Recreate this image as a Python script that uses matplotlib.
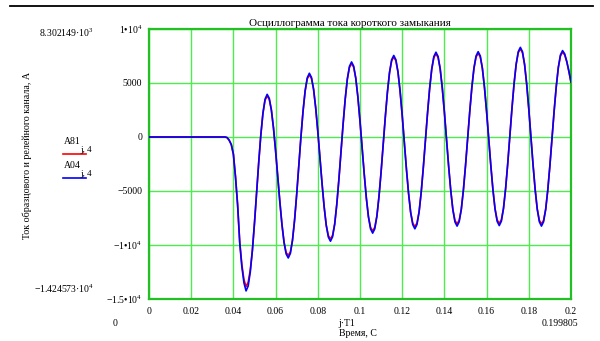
import matplotlib
matplotlib.use("Agg")
import matplotlib.pyplot as plt
from matplotlib.lines import Line2D

plt.rcParams["font.family"] = ["Liberation Serif", "DejaVu Serif"]
plt.rcParams["mathtext.fontset"] = "custom"
plt.rcParams["mathtext.rm"] = "Liberation Serif"
plt.rcParams["mathtext.it"] = "Liberation Serif"
plt.rcParams["mathtext.default"] = "rm"

#Sample step and sample numbers (time = j*T1)
T1 = 0.001
j = list(range(201))

#Blue trace: A04 (relay channel)
A04 = [0, 0, 0, 0, 0, 0, 0, 0, 0, 0,
       0, 0, 0, 0, 0, 0, 0, 0, 0, 0,
       0, 0, 0, 0, 0, 0, 0, 0, 0, 0,
       0, 0, 0, 0, 0, 0, 0, -50, -300, -700,
       -1600, -3700, -6300, -9800, -12000, -13500, -14250, -13800, -12500, -10500,
       -7950, -5150, -2350, 200, 2200, 3500, 3950, 3580, 2500, 830,
       -1280, -3630, -5970, -8080, -9750, -10830, -11200, -10780, -9570, -7680,
       -5290, -2650, 0, 2380, 4270, 5480, 5900, 5520, 4420, 2700,
       530, -1880, -4280, -6450, -8170, -9270, -9650, -9240, -8070, -6230,
       -3920, -1350, 1220, 3530, 5370, 6540, 6950, 6560, 5440, 3690,
       1470, -980, -3420, -5640, -7390, -8510, -8900, -8500, -7330, -5510,
       -3220, -680, 1870, 4160, 5980, 7150, 7550, 7160, 6020, 4240,
       2010, -480, -2960, -5190, -6970, -8110, -8500, -8100, -6940, -5130,
       -2850, -330, 2200, 4480, 6290, 7450, 7850, 7460, 6310, 4530,
       2290, -200, -2690, -4930, -6710, -7860, -8250, -7850, -6710, -4920,
       -2670, -180, 2320, 4570, 6360, 7500, 7900, 7510, 6360, 4580,
       2340, -150, -2640, -4880, -6660, -7810, -8200, -7800, -6620, -4800,
       -2500, 50, 2600, 4900, 6720, 7900, 8300, 7900, 6720, 4890,
       2580, 30, -2530, -4840, -6670, -7850, -8250, -7850, -6700, -4900,
       -2640, -130, 2390, 4650, 6450, 7600, 8000, 7700, 7000, 6100,
       5100]

#Red trace: A81 (reference channel)
A81 = [0, 0, 0, 0, 0, 0, 0, 0, 0, 0,
       0, 0, 0, 0, 0, 0, 0, 0, 0, 0,
       0, 0, 0, 0, 0, 0, 0, 0, 0, 0,
       0, 0, 0, 0, 0, 0, 0, -50, -300, -700,
       -1600, -3700, -6300, -9700, -11800, -13200, -13850, -13450, -12300, -10500,
       -7950, -5150, -2350, 200, 2200, 3400, 3800, 3470, 2500, 830,
       -1280, -3630, -5970, -8080, -9750, -10700, -10950, -10650, -9570, -7680,
       -5290, -2650, 0, 2380, 4270, 5380, 5750, 5420, 4420, 2700,
       530, -1880, -4280, -6450, -8170, -9120, -9450, -9100, -8070, -6230,
       -3920, -1350, 1220, 3530, 5370, 6440, 6800, 6460, 5440, 3690,
       1470, -980, -3420, -5640, -7390, -8370, -8700, -8360, -7330, -5510,
       -3220, -680, 1870, 4160, 5980, 7050, 7400, 7060, 6020, 4240,
       2010, -480, -2960, -5190, -6970, -7970, -8300, -7960, -6940, -5130,
       -2850, -330, 2200, 4480, 6290, 7350, 7700, 7360, 6310, 4530,
       2290, -200, -2690, -4930, -6710, -7720, -8050, -7710, -6710, -4920,
       -2670, -180, 2320, 4570, 6360, 7400, 7750, 7410, 6360, 4580,
       2340, -150, -2640, -4880, -6660, -7670, -8000, -7660, -6620, -4800,
       -2500, 50, 2600, 4900, 6720, 7800, 8150, 7800, 6720, 4890,
       2580, 30, -2530, -4840, -6670, -7710, -8050, -7710, -6700, -4900,
       -2640, -130, 2390, 4650, 6450, 7500, 7850, 7600, 6950, 6050,
       5050]

t = [k * T1 for k in j]

#Axis ticks and labels
x_ticks = [0, 0.02, 0.04, 0.06, 0.08, 0.1, 0.12, 0.14, 0.16, 0.18, 0.2]
x_labels = ["0", "0.02", "0.04", "0.06", "0.08", "0.1", "0.12", "0.14", "0.16", "0.18", "0.2"]
y_ticks = [-15000, -10000, -5000, 0, 5000, 10000]
y_labels = ["\u22121.5\u202210$^{4}$", "\u22121\u202210$^{4}$", "\u22125000", "0", "5000", "1\u202210$^{4}$"]

W, H = 600, 341
fig = plt.figure(figsize=(6, 3.41), dpi=100)
ax = fig.add_axes([149 / W, 1 - 299 / H, 422 / W, 270 / H])


def put(x, y, s, **kw):
    #place text using pixel coordinates of the picture
    fig.text(x / W, 1 - y / H, s, **kw)


def hline(x0, x1, y, **kw):
    fig.add_artist(Line2D([x0 / W, x1 / W], [1 - y / H, 1 - y / H], transform=fig.transFigure, **kw))


ax.plot(t, A81, color="#ff0000", lw=1.2, zorder=3)
ax.plot(t, A04, color="#0000ff", lw=1.2, zorder=4)

ax.set_xlim(0, 0.2)
ax.set_ylim(-15000, 10000)
ax.set_xticks(x_ticks)
ax.set_xticklabels(x_labels, fontsize=7)
ax.set_yticks(y_ticks)
ax.set_yticklabels(y_labels, fontsize=7)
ax.tick_params(length=0, pad=5)
ax.tick_params(axis="x", pad=6)
ax.grid(True, color="#4ded4d", lw=1)
for s in ax.spines.values():
    s.set_color("#22c022")
    s.set_linewidth(1.6)

#Title and outer labels
put(350, 24, "Осциллограмма тока короткого замыкания", fontsize=8, ha="center", va="center")
put(27, 155, "Ток образцового и релейного канала, А", fontsize=7.2, rotation=90,
    ha="center", va="center")
put(94, 33, "8.302149\u00b710$^{3}$", fontsize=7, ha="right", va="center")
put(94, 289, "\u22121.424573\u00b710$^{4}$", fontsize=7, ha="right", va="center")
put(115, 323, "0", fontsize=7, ha="center", va="center")
put(560, 323, "0.199805", fontsize=7, ha="center", va="center")
put(347, 323, "j\u00b7T1", fontsize=7, ha="center", va="center")
put(358, 334, "Время, С", fontsize=7, ha="center", va="center")

#Legend
put(72, 141, "A81", fontsize=7, ha="center", va="center")
put(80, 150, "j, 4", fontsize=6.5, ha="left", va="center")
hline(63, 86, 154, color="#ff0000", lw=1.2)
put(72, 165, "A04", fontsize=7, ha="center", va="center")
put(80, 174, "j, 4", fontsize=6.5, ha="left", va="center")
hline(63, 86, 178, color="#0000ff", lw=1.2)

#Top rule
hline(10, 593, 6, color="black", lw=1.3)

fig.savefig("out.png", dpi=100)
